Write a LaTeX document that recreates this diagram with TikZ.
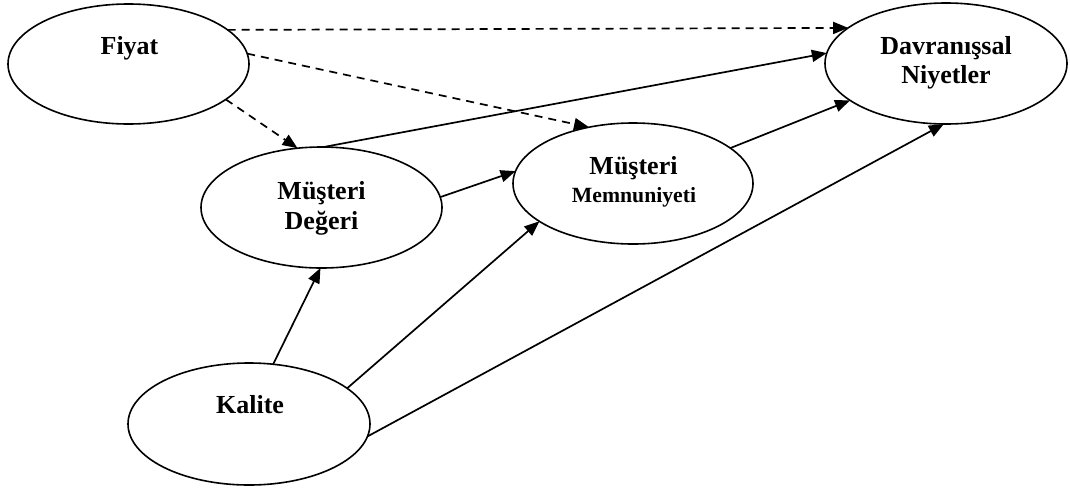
\documentclass[tikz,border=0pt]{standalone}
\usepackage{fontspec}
\setmainfont{Liberation Serif}
\usetikzlibrary{shapes.geometric,arrows.meta}
\begin{document}
\begin{tikzpicture}[x=1pt,y=-1pt,
  oval/.style={draw,ellipse,line width=1.6pt,inner sep=0pt,outer sep=0pt},
  lbl/.style={anchor=base,inner sep=0pt,font=\fontsize{26}{30}\selectfont\bfseries},
  lblsmall/.style={anchor=base,inner sep=0pt,font=\fontsize{21.7}{26}\selectfont\bfseries},
  link/.style={line width=1.7pt,-{Triangle[length=15pt,width=12pt]}},
  dlink/.style={link,dash pattern=on 8pt off 6pt}]
\useasboundingbox (0,0) rectangle (1070,488);

% constructs
\node[oval,minimum width=241pt,minimum height=120pt] (fiyat)  at (128.5,64)  {};
\node[oval,minimum width=242pt,minimum height=121pt] (davr)   at (946,63.5)  {};
\node[oval,minimum width=241pt,minimum height=121pt] (deger)  at (321.5,207.5) {};
\node[oval,minimum width=240pt,minimum height=121pt] (memn)   at (633,183.5) {};
\node[oval,minimum width=242pt,minimum height=122pt] (kalite) at (249,424)   {};

% labels
\node[lbl] (tFiyat)  at (129.5,54) {Fiyat};
\node[lbl] (tDavr1)  at (946,54)   {Davranışsal};
\node[lbl] (tDavr2)  at (946,83)   {Niyetler};
\node[lbl] (tDeger1) at (321.5,199) {Müşteri};
\node[lbl] (tDeger2) at (321.5,229) {Değeri};
\node[lbl] (tMemn1)  at (633.5,174) {Müşteri};
\node[lblsmall] (tMemn2) at (634,202) {Memnuniyeti};
\node[lbl] (tKalite) at (250,413)  {Kalite};

% price effects (dashed)
\draw[dlink] (fiyat.19.7)  -- (davr.160.1);
\draw[dlink] (fiyat.5.7)   -- (memn.128.5);
\draw[dlink] (fiyat.-20.1) -- (deger.112.4);

% solid paths
\draw[link] (deger.88.6) -- (davr.175);
\draw[link] (deger.5.9)  -- (memn.174.4);
\draw[link] (memn.20.2)  -- (davr.-159.6);
\draw[link] (kalite.68.2)  -- (deger.-91.4);
\draw[link] (kalite.20.7)  -- (memn.-158.1);
\draw[link] (kalite.-6.2)  -- (davr.-92.8);
\end{tikzpicture}
\end{document}
